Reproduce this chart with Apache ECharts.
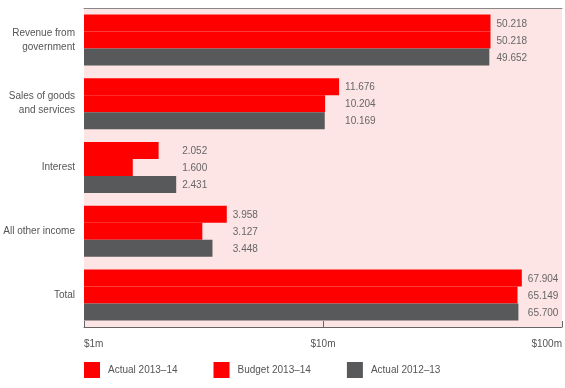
<!DOCTYPE html>
<html>
<head>
<meta charset="utf-8">
<script src="https://cdn.jsdelivr.net/npm/echarts@6/dist/echarts.min.js"></script>
<style>
html,body{margin:0;padding:0;background:#fff;}
#chart{width:565px;height:388px;}
</style>
</head>
<body>
<div id="chart"></div>
<script>
var categories = ['Revenue from\ngovernment', 'Sales of goods\nand services', 'Interest', 'All other income', 'Total'];
var seriesNames = ['Actual 2013\u201314', 'Budget 2013\u201314', 'Actual 2012\u201313'];
var actual1314 = [50.218, 11.676, 2.052, 3.958, 67.904];
var budget1314 = [50.218, 10.204, 1.600, 3.127, 65.149];
var actual1213 = [49.652, 10.169, 2.431, 3.448, 65.700];
var tickLabels = {1: '$1m', 10: '$10m', 100: '$100m'};

var txtColor = '#555';
var font = 'Liberation Sans';

// value labels sit just right of the longest bar in each group
var labelData = [];
for (var i = 0; i < categories.length; i++) {
    var mx = Math.max(actual1314[i], budget1314[i], actual1213[i]);
    labelData.push([mx, i, actual1314[i], budget1314[i], actual1213[i]]);
}

var chart = echarts.init(document.getElementById('chart'));
var option = {
    animation: false,
    textStyle: {fontFamily: font},
    color: ['#ff0000', '#ff0000', '#58595b'],
    legend: {
        left: 84,
        top: 362,
        padding: 0,
        itemWidth: 16,
        itemHeight: 16,
        itemGap: 36,
        icon: 'rect',
        selectedMode: false,
        data: seriesNames,
        textStyle: {color: txtColor, fontSize: 10, fontFamily: font, padding: [0, 0, 0, 3]}
    },
    grid: {
        left: 84,
        right: 1,
        top: 8,
        bottom: 61,
        show: true,
        borderWidth: 0,
        backgroundColor: '#fde5e5'
    },
    xAxis: [{
        type: 'log',
        logBase: 10,
        min: 1,
        max: 100,
        position: 'bottom',
        axisLine: {show: true, lineStyle: {color: '#666', width: 1}},
        axisTick: {show: true, inside: true, length: 6, lineStyle: {color: '#666'}},
        splitLine: {show: false},
        axisLabel: {
            color: txtColor,
            fontSize: 10,
            margin: 12,
            alignMinLabel: 'left',
            alignMaxLabel: 'right',
            formatter: function (v) { return tickLabels[Math.round(v)] || ''; }
        }
    }, {
        type: 'log',
        logBase: 10,
        min: 1,
        max: 100,
        position: 'top',
        axisLine: {show: true, lineStyle: {color: '#888', width: 1}},
        axisTick: {show: false},
        axisLabel: {show: false},
        splitLine: {show: false}
    }],
    yAxis: {
        type: 'category',
        inverse: true,
        data: categories,
        axisLine: {show: false},
        axisTick: {show: false},
        axisLabel: {color: txtColor, fontSize: 10, lineHeight: 14, margin: 9, align: 'right'}
    },
    series: [{
        name: seriesNames[0],
        type: 'bar',
        barGap: 0,
        barCategoryGap: '20%',
        data: actual1314
    }, {
        name: seriesNames[1],
        type: 'bar',
        barGap: 0,
        barCategoryGap: '20%',
        data: budget1314
    }, {
        name: seriesNames[2],
        type: 'bar',
        barGap: 0,
        barCategoryGap: '20%',
        data: actual1213
    }, {
        type: 'custom',
        silent: true,
        data: labelData,
        encode: {x: 0, y: 1},
        renderItem: function (params, api) {
            var pt = api.coord([api.value(0), api.value(1)]);
            var barH = api.size([0, 1])[1] * 0.8 / 3;
            var kids = [];
            for (var k = 0; k < 3; k++) {
                kids.push({
                    type: 'text',
                    style: {
                        x: pt[0] + 6,
                        y: pt[1] + (k - 1) * barH + 1,
                        text: Number(api.value(2 + k)).toFixed(3),
                        fill: '#666',
                        fontSize: 10,
                        fontFamily: font,
                        verticalAlign: 'middle',
                        align: 'left'
                    }
                });
            }
            return {type: 'group', children: kids};
        }
    }]
};
chart.setOption(option);
</script>
</body>
</html>
